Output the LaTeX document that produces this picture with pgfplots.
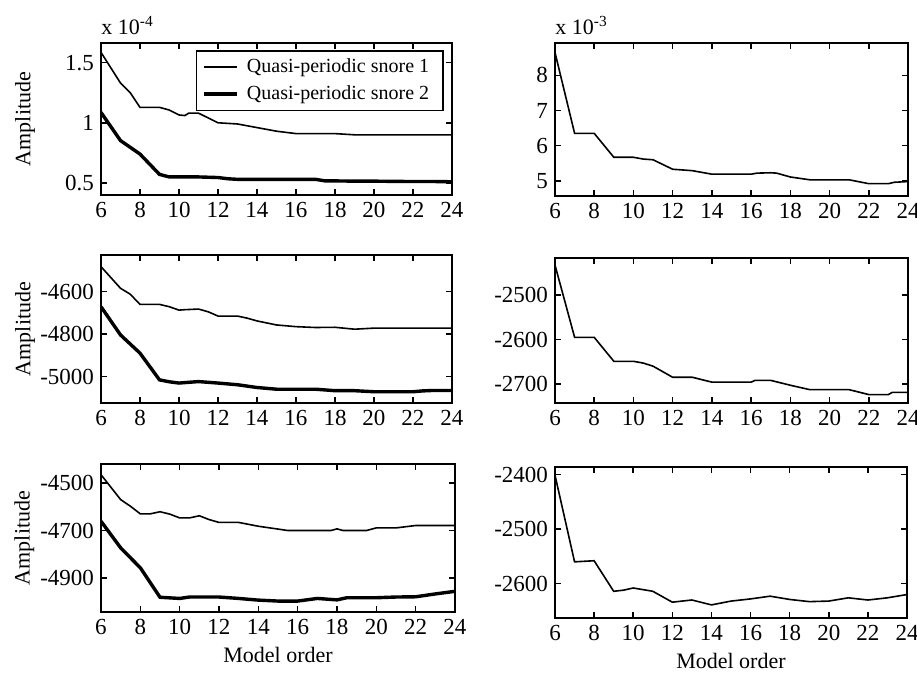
\documentclass[border=0pt]{standalone}
\usepackage{fontspec}
\setmainfont{Liberation Serif}
\usepackage{pgfplots}
\pgfplotsset{compat=1.18}

\pgfplotsset{
  panel/.style={
    scale only axis,
    anchor=south west,
    xmin=6, xmax=24,
    xtick={6,8,...,24},
    tick align=inside,
    major tick length=3pt,
    axis line style={line width=0.9pt},
    every tick/.style={line width=0.8pt, black},
    tick label style={font=\fontsize{11.5}{13}\selectfont},
    /pgf/number format/assume math mode=true,
    /pgf/number format/1000 sep={},
    label style={font=\fontsize{11}{13}\selectfont},
    ylabel style={at={(axis description cs:-0.2165,0.5)}, anchor=center},
    xlabel style={at={(axis description cs:0.5,0)}, anchor=center, yshift=-21.5pt},
  },
  s1/.style={black, line width=0.8pt},
  s2/.style={black, line width=1.7pt},
}

\begin{document}
\begin{tikzpicture}
\useasboundingbox (0,0) rectangle (458.5pt,336.5pt);

% ---------------- top left
\begin{axis}[panel, name=tl, at={(50.5pt,239pt)}, width=175.5pt, height=76pt,
  ymin=0.4, ymax=1.663, ytick={0.5,1,1.5}, ylabel={Amplitude},
  legend style={at={(rel axis cs:0.977,0.954)}, anchor=north east, draw=black,
    line width=0.8pt, font=\fontsize{10}{11.5}\selectfont, inner xsep=3pt, inner ysep=2pt,
    row sep=1pt, nodes={inner xsep=4pt}},
  legend cell align=left,
  legend image code/.code={\draw[#1] (0pt,0pt) -- (16.5pt,0pt);}]
\addplot[s1] coordinates {(6,1.585) (7,1.33) (7.5,1.25) (8,1.128) (9,1.128) (9.5,1.106) (10,1.065) (10.3,1.06) (10.5,1.08) (11,1.08) (11.5,1.04) (12,1.0) (13,0.99) (14,0.96) (15,0.93) (16,0.91) (17,0.91) (18,0.91) (19,0.90) (20,0.90) (21,0.90) (22,0.90) (23,0.90) (24,0.90)};
\addlegendentry{Quasi-periodic snore 1}
\addplot[s2] coordinates {(6,1.086) (7,0.852) (8,0.74) (9,0.571) (9.5,0.55) (10,0.55) (11,0.55) (12,0.545) (12.5,0.535) (13,0.53) (14,0.53) (15,0.53) (16,0.53) (17,0.53) (17.5,0.517) (18,0.517) (19,0.515) (20,0.515) (21,0.513) (22,0.512) (23,0.512) (24,0.51)};
\addlegendentry{Quasi-periodic snore 2}
\end{axis}
\node[anchor=south west, inner sep=0pt, font=\fontsize{11}{13}\selectfont] at ([yshift=4pt]tl.north west) {x 10\textsuperscript{-4}};

% ---------------- top right
\begin{axis}[panel, name=tr, at={(277.5pt,238.5pt)}, width=176.5pt, height=76.5pt,
  ymin=4.57, ymax=8.92, ytick={5,6,7,8}]
\addplot[s1] coordinates {(6,8.65) (7,6.35) (8,6.35) (9,5.67) (10,5.67) (10.5,5.62) (11,5.6) (12,5.33) (13,5.29) (14,5.19) (15,5.19) (16,5.19) (16.3,5.22) (17,5.23) (17.3,5.22) (18,5.11) (19,5.03) (20,5.03) (21,5.03) (22,4.92) (23,4.92) (23.3,4.96) (24,4.98)};
\end{axis}
\node[anchor=south west, inner sep=0pt, font=\fontsize{11}{13}\selectfont] at ([yshift=4pt]tr.north west) {x 10\textsuperscript{-3}};

% ---------------- middle left
\begin{axis}[panel, at={(50.5pt,135pt)}, width=175.5pt, height=74pt,
  ymin=-5125, ymax=-4427, ytick={-5000,-4800,-4600}, ylabel={Amplitude}]
\addplot[s1] coordinates {(6,-4482) (7,-4584) (7.5,-4612) (8,-4660) (9,-4660) (9.5,-4671) (10,-4687) (10.3,-4685) (11,-4682) (11.5,-4695) (12,-4715) (13,-4715) (13.5,-4725) (14,-4738) (15,-4757) (16,-4765) (17,-4769) (18,-4768) (19,-4777) (20,-4772) (21,-4772) (22,-4772) (23,-4772) (24,-4772)};
\addplot[s2] coordinates {(6,-4671) (7,-4804) (8,-4890) (9,-5016) (9.5,-5025) (10,-5031) (11,-5024) (12,-5031) (13,-5039) (14,-5052) (15,-5060) (16,-5060) (17,-5060) (18,-5067) (19,-5067) (20,-5072) (21,-5072) (22,-5072) (22.5,-5068) (23,-5066) (24,-5066)};
\end{axis}

% ---------------- middle right
\begin{axis}[panel, at={(277.5pt,135pt)}, width=176.5pt, height=72.5pt,
  ymin=-2743, ymax=-2416, ytick={-2700,-2600,-2500}]
\addplot[s1] coordinates {(6,-2432) (7,-2595) (8,-2595) (9,-2649) (10,-2649) (10.5,-2653) (11,-2660) (12,-2685) (13,-2685) (14,-2696) (15,-2696) (16,-2696) (16.2,-2692) (17,-2692) (18,-2703) (19,-2713) (20,-2713) (21,-2713) (22,-2724) (23,-2724) (23.2,-2719) (24,-2719)};
\end{axis}

% ---------------- bottom left
\begin{axis}[panel, at={(50.5pt,30.5pt)}, width=177pt, height=74pt,
  ymin=-5043, ymax=-4420, ytick={-4900,-4700,-4500}, ylabel={Amplitude}, xlabel={Model order}]
\addplot[s1] coordinates {(6,-4465) (7,-4570) (7.5,-4598) (8,-4630) (8.5,-4630) (9,-4621) (9.5,-4631) (10,-4647) (10.5,-4647) (11,-4638) (11.5,-4654) (12,-4666) (13,-4666) (14,-4682) (15,-4694) (15.5,-4700) (16,-4700) (17,-4700) (17.7,-4700) (18,-4693) (18.3,-4700) (19,-4700) (19.5,-4700) (20,-4689) (21,-4689) (22,-4679) (23,-4679) (24,-4679)};
\addplot[s2] coordinates {(6,-4661) (7,-4773) (8,-4857) (9,-4981) (10,-4986) (10.5,-4980) (11,-4980) (12,-4980) (13,-4986) (14,-4993) (15,-4997) (16,-4997) (17,-4986) (18,-4992) (18.5,-4983) (19,-4983) (20,-4983) (21,-4980) (22,-4979) (23,-4967) (24,-4956)};
\end{axis}

% ---------------- bottom right
\begin{axis}[panel, at={(277.5pt,27.5pt)}, width=176pt, height=75.5pt,
  ymin=-2663, ymax=-2386, ytick={-2600,-2500,-2400}, xlabel={Model order}]
\addplot[s1] coordinates {(6,-2401) (7,-2560) (8,-2558) (9,-2614) (9.5,-2612) (10,-2608) (10.5,-2611) (11,-2614) (12,-2634) (13,-2630) (14,-2639) (15,-2632) (16,-2628) (17,-2623) (18,-2629) (19,-2633) (20,-2632) (21,-2626) (22,-2630) (23,-2626) (24,-2620)};
\end{axis}
\end{tikzpicture}
\end{document}
